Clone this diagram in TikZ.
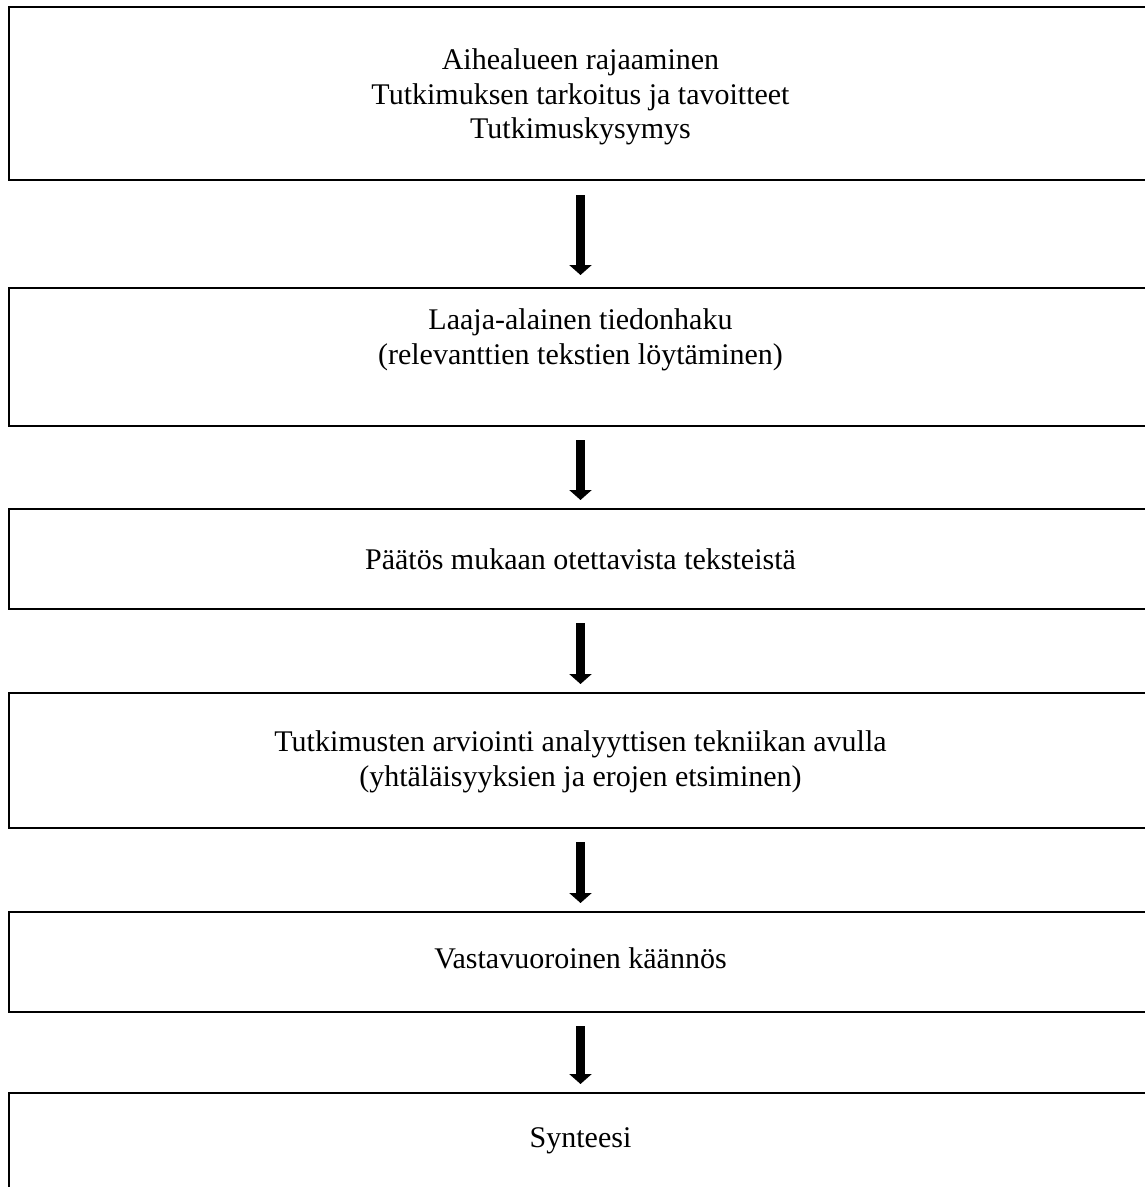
\documentclass[tikz,border=0pt]{standalone}
\usepackage{fontspec}
\setmainfont{Liberation Serif}
\usetikzlibrary{arrows.meta}
\begin{document}
\begin{tikzpicture}[x=1pt,y=-1pt,
  stagebox/.style={draw=black,line width=2pt},
  stagetext/.style={font=\fontsize{30}{34.5}\selectfont,align=center,inner sep=0pt},
  flowarrow/.style={line width=9pt,-{Triangle[width=22pt,length=10pt]}}]
\useasboundingbox (0,0) rectangle (1145,1187);
\clip (0,0) rectangle (1145,1187);
% boxes
\draw[stagebox] (9,7) rectangle (1152,180);
\draw[stagebox] (9,288) rectangle (1152,426);
\draw[stagebox] (9,509) rectangle (1152,609);
\draw[stagebox] (9,693) rectangle (1152,828);
\draw[stagebox] (9,912) rectangle (1152,1012);
\draw[stagebox] (9,1093) rectangle (1152,1230);
% texts
\node[stagetext] (t1) at (580.5,97) {Aihealueen rajaaminen\\Tutkimuksen tarkoitus ja tavoitteet\\Tutkimuskysymys};
\node[stagetext] (t2) at (580.5,340) {Laaja-alainen tiedonhaku\\(relevanttien tekstien löytäminen)};
\node[stagetext] (t3) at (580.5,559) {Päätös mukaan otettavista teksteistä};
\node[stagetext] (t4) at (580.5,762) {Tutkimusten arviointi analyyttisen tekniikan avulla\\(yhtäläisyyksien ja erojen etsiminen)};
\node[stagetext] (t5) at (580.5,958) {Vastavuoroinen käännös};
\node[stagetext] (t6) at (580.5,1141) {Synteesi};
% arrow anchors
\coordinate (a1s) at (580.5,195); \coordinate (a1e) at (580.5,275);
\coordinate (a2s) at (580.5,440); \coordinate (a2e) at (580.5,500);
\coordinate (a3s) at (580.5,623); \coordinate (a3e) at (580.5,684);
\coordinate (a4s) at (580.5,842); \coordinate (a4e) at (580.5,903);
\coordinate (a5s) at (580.5,1026); \coordinate (a5e) at (580.5,1084);
\draw[flowarrow] (a1s) -- (a1e);
\draw[flowarrow] (a2s) -- (a2e);
\draw[flowarrow] (a3s) -- (a3e);
\draw[flowarrow] (a4s) -- (a4e);
\draw[flowarrow] (a5s) -- (a5e);
\end{tikzpicture}
\end{document}
